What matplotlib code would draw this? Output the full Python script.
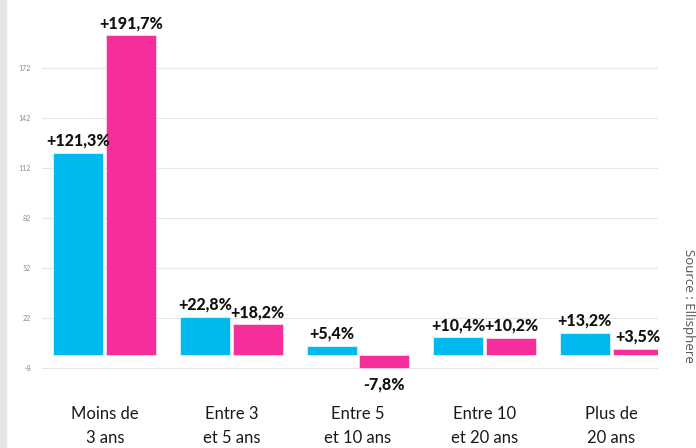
import matplotlib

matplotlib.use("Agg")
import matplotlib.pyplot as plt
import matplotlib.patches as mpatches
import numpy as np

# data
categories = ["Moins de\n3 ans", "Entre 3\net 5 ans", "Entre 5\net 10 ans",
              "Entre 10\net 20 ans", "Plus de\n20 ans"]
serie_bleue = [121.3, 22.8, 5.4, 10.4, 13.2]
serie_rose = [191.7, 18.2, -7.8, 10.2, 3.5]
yticks = [-8, 22, 52, 82, 112, 142, 172]

C_BLUE = "#00B9EE"
C_PINK = "#F62E9B"

plt.rcParams["font.family"] = ["Lato", "DejaVu Sans"]

fig = plt.figure(figsize=(6.96, 4.48), dpi=100)
ax = fig.add_axes([42 / 696, 1 - 371.4 / 448, 616 / 696, (371.4 - 21.4) / 448])

# left grey strip
fig.patches.append(mpatches.Rectangle((0, 0), 6 / 696, 1, transform=fig.transFigure,
                                      color="#E4E5E9", zorder=0))

x = np.arange(len(categories))
w = 0.395
off = 0.209

ax.bar(x - off, serie_bleue, w, color=C_BLUE, edgecolor="#DDF4FB", linewidth=0.6, zorder=3)
ax.bar(x + off, serie_rose, w, color=C_PINK, edgecolor="#FCD6EA", linewidth=0.6, zorder=3)


def lab(v):
    return f"{v:+.1f}%".replace(".", ",")


for xs, vals in ((x - off, serie_bleue), (x + off, serie_rose)):
    for xi, v in zip(xs, vals):
        if v >= 0:
            ax.annotate(lab(v), (xi, v), xytext=(0, 3), textcoords="offset points",
                        ha="center", va="bottom", fontsize=11.5, fontweight="black",
                        color="#111111", zorder=5)
        else:
            ax.annotate(lab(v), (xi, v), xytext=(0, -6), textcoords="offset points",
                        ha="center", va="top", fontsize=11.5, fontweight="black",
                        color="#111111", zorder=5, annotation_clip=False)

ax.set_xlim(-0.496, 4.37)
ax.set_ylim(-10, 200)
ax.set_yticks(yticks)
ax.set_yticklabels([str(t) for t in yticks], fontsize=5, color="#8A8A8A")
ax.grid(axis="y", color="#E6E6E6", linewidth=0.8, zorder=0)
ax.set_axisbelow(True)
ax.set_xticks(x)
ax.set_xticklabels(categories, fontsize=12, color="#1A1A1A", linespacing=1.6)
ax.tick_params(axis="x", length=0, pad=25)
ax.tick_params(axis="y", length=0, pad=8)
for s in ax.spines.values():
    s.set_visible(False)

fig.text(688 / 696, 1 - 306 / 448, "Source : Ellisphere", rotation=270,
         ha="center", va="center", fontsize=9.5, color="#555555",
         family=["Open Sans", "DejaVu Sans"])

fig.savefig("out.png", dpi=100)
